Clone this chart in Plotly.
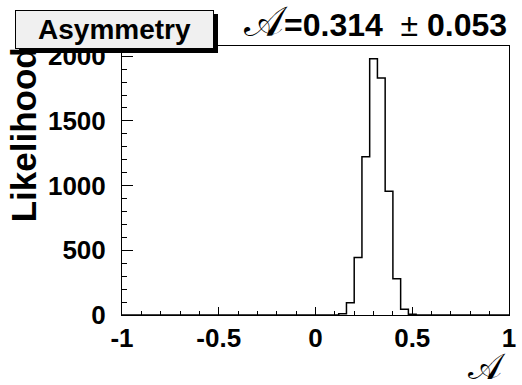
import plotly.graph_objects as go

# ---- data ----
x_range = [-1.0, 1.0]
bin_width = 0.04
bin_left = [0.12, 0.16, 0.20, 0.24, 0.28, 0.32, 0.36, 0.40, 0.44, 0.48]
counts = [10, 95, 445, 1224, 1980, 1832, 957, 280, 44, 5]
y_max = 2079
x_ticks = [-1, -0.5, 0, 0.5, 1]
x_ticklabels = ["-1", "-0.5", "0", "0.5", "1"]
y_ticks = [0, 500, 1000, 1500, 2000]
y_ticklabels = ["0", "500", "1000", "1500", "2000"]
title_left = "Asymmetry"
mean_val = "0.314"
err_val = "0.053"

# step outline of the histogram
xs = [x_range[0]] + bin_left + [bin_left[-1] + bin_width, x_range[1]]
ys = [0] + counts + [0, 0]

W, H = 522, 385
L, R, T, B = 122, 6, 46, 70
PW, PH = W - L - R, H - T - B


def px(x):
    return (x - L) / PW


def py(y):
    return (H - B - y) / PH


FONT = "Liberation Sans, Arial, sans-serif"

fig = go.Figure()
fig.add_trace(go.Scatter(x=xs, y=ys, mode="lines", line=dict(shape="hv", color="black", width=1.5),
                         hoverinfo="skip", showlegend=False))

fig.update_layout(
    width=W, height=H,
    margin=dict(l=L, r=R, t=T, b=B, pad=0),
    paper_bgcolor="white", plot_bgcolor="white",
    showlegend=False,
    xaxis=dict(range=x_range, tickvals=x_ticks, ticktext=x_ticklabels, ticks="inside", ticklen=8,
               tickwidth=1, tickcolor="black", showline=True, linecolor="black", linewidth=1,
               mirror=True, showgrid=False, zeroline=False,
               tickfont=dict(family=FONT, size=26, color="black", weight="bold"),
               ticklabelstandoff=0, ticklabeloverflow="allow",
               minor=dict(dtick=0.1, tick0=0, ticks="inside", ticklen=4, tickcolor="black", tickwidth=1,
                          showgrid=False)),
    yaxis=dict(range=[0, y_max], tickvals=y_ticks, ticktext=y_ticklabels, ticks="inside", ticklen=11,
               tickwidth=1, tickcolor="black", showline=True, linecolor="black", linewidth=1,
               mirror=True, showgrid=False, zeroline=False,
               tickfont=dict(family=FONT, size=26, color="black", weight="bold"),
               ticklabelstandoff=10, ticklabeloverflow="allow",
               minor=dict(dtick=100, tick0=0, ticks="inside", ticklen=5, tickcolor="black", tickwidth=1,
                          showgrid=False)),
)

annotations = [
    # y-axis title
    dict(text="<b>Likelihood</b>", textangle=-90, xref="paper", yref="paper",
         x=px(22), y=py(45), xanchor="center", yanchor="top", showarrow=False,
         font=dict(family=FONT, size=35, color="black")),
    # shadow of title box
    dict(text=" ", xref="paper", yref="paper", x=px(16.7), y=py(13.5), xanchor="left", yanchor="top",
         width=197, height=37, bgcolor="black", bordercolor="black", borderwidth=1, borderpad=0,
         showarrow=False, font=dict(size=10)),
    # title box
    dict(text="<b>" + title_left + "</b>", xref="paper", yref="paper", x=px(12.7), y=py(9.5),
         xanchor="left", yanchor="top", width=197, height=37, bgcolor="#f0f0f0", bordercolor="black",
         borderwidth=1, borderpad=0, showarrow=False, font=dict(family=FONT, size=28, color="black")),
    # fitted value
    dict(text="<span style='font-size:42px;font-weight:normal'>𝒜</span><b>=" + mean_val
              + "  </b><span style='font-weight:normal'>±</span><b> " + err_val + "</b>",
         xref="paper", yref="paper", x=1.0, y=py(22), xanchor="right", yanchor="middle", showarrow=False,
         font=dict(family=FONT, size=32, color="black")),
    # x-axis title
    dict(text="𝒜", xref="paper", yref="paper", x=px(494), y=py(366), xanchor="center", yanchor="middle",
         showarrow=False, font=dict(family=FONT, size=36, color="black")),
]
fig.update_layout(annotations=annotations)

fig.write_html("out.html")
